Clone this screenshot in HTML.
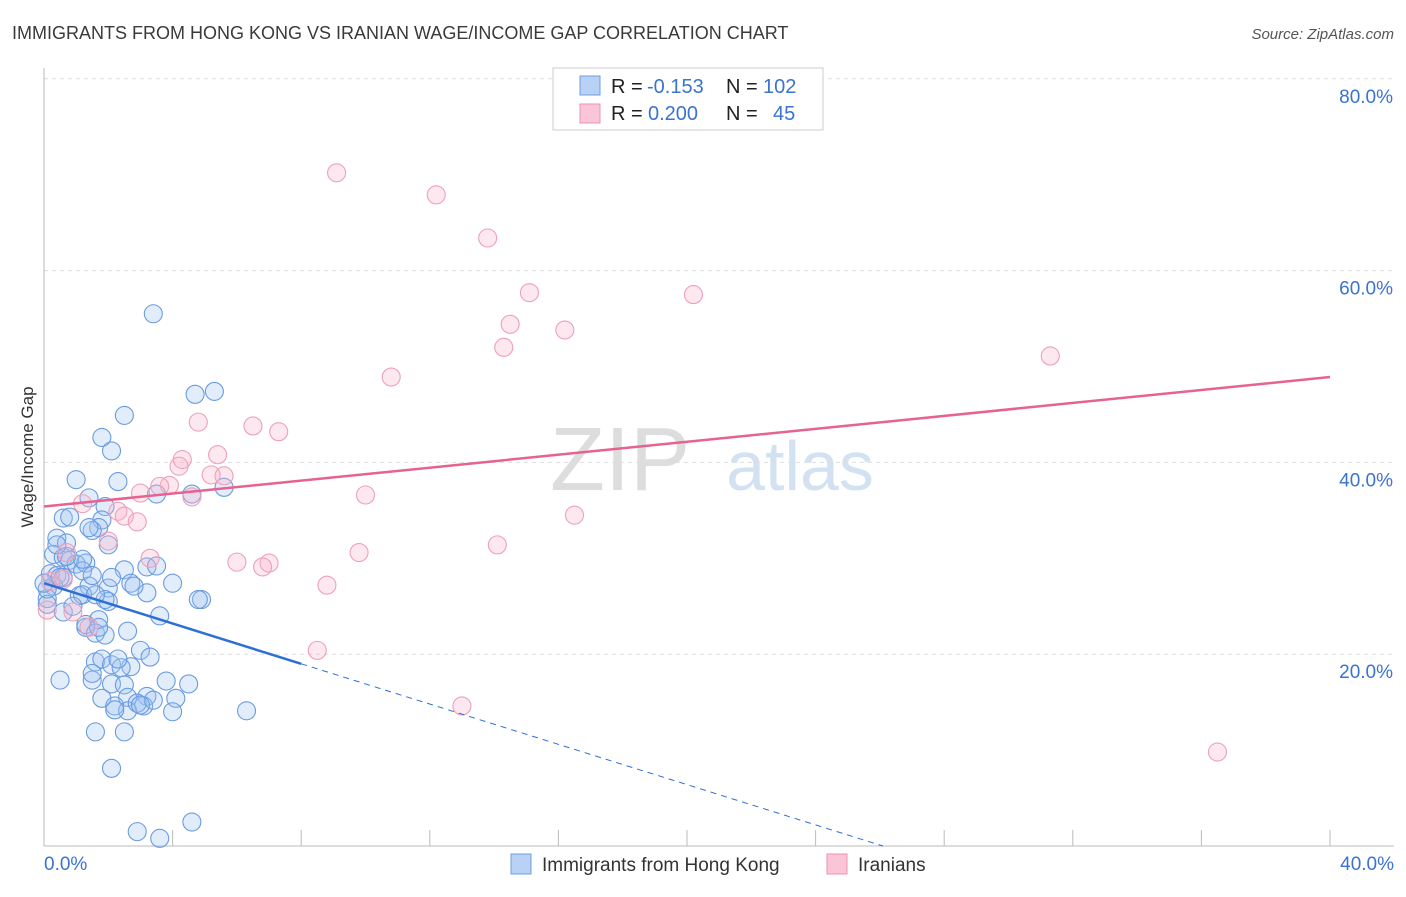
<!DOCTYPE html>
<html><head><meta charset="utf-8"><style>
body{margin:0;background:#fff;font-family:"Liberation Sans",sans-serif;}
svg text{font-family:"Liberation Sans",sans-serif;}
</style></head><body>
<svg id="c" width="1406" height="892">
<text x="12" y="39" font-size="18" fill="#3a3a3a">IMMIGRANTS FROM HONG KONG VS IRANIAN WAGE/INCOME GAP CORRELATION CHART</text>
<text x="1394" y="39" font-size="15" fill="#555" font-style="italic" text-anchor="end">Source: ZipAtlas.com</text>
<text x="33" y="457" font-size="17" fill="#333" transform="rotate(-90 33 457)" text-anchor="middle">Wage/Income Gap</text>
<text x="620" y="490" font-size="90" fill="#ddd" font-family="Liberation Serif" text-anchor="middle">ZIP</text>
<text x="800" y="490" font-size="70" fill="#d3e2f3" text-anchor="middle">atlas</text>
<g id="grid"></g><g id="pts"></g><g id="lines"></g>
<g>
<rect x="553" y="68" width="270" height="62" fill="#fff" stroke="#ccc"/>
<rect x="580" y="76" width="20" height="19" fill="#b7d2f5" stroke="#6d9de0"/>
<rect x="580" y="104" width="20" height="19" fill="#fac5d6" stroke="#ec93ae"/>
<text x="611" y="93" font-size="20" fill="#222">R =</text>
<text x="647" y="93" font-size="20" fill="#3a73d0">-0.153</text>
<text x="726" y="93" font-size="20" fill="#222">N =</text>
<text x="763" y="93" font-size="20" fill="#3a73d0">102</text>
<text x="611" y="120" font-size="20" fill="#222">R =</text>
<text x="648" y="120" font-size="20" fill="#3a73d0">0.200</text>
<text x="726" y="120" font-size="20" fill="#222">N =</text>
<text x="773" y="120" font-size="20" fill="#3a73d0">45</text>
</g>
<g>
<rect x="511" y="854" width="20" height="20" fill="#b7d2f5" stroke="#6d9de0"/>
<text x="542" y="871" font-size="19" fill="#333">Immigrants from Hong Kong</text>
<rect x="827" y="854" width="20" height="20" fill="#fac5d6" stroke="#ec93ae"/>
<text x="858" y="871" font-size="19" fill="#333">Iranians</text>
</g>
</svg>
<script>
const yTicks=[20,40,60,80];
const xTicks=[0,4,8,12,16,20,24,28,32,36,40];
const blueX=[3.4,5.3,4.7,2.5,1.8,2.1,1.0,2.3,5.6,3.5,4.6,1.4,1.9,0.6,0.8,1.8,1.7,1.5,1.4,2.0,0.4,0.7,0.3,0.6,0.8,1.0,1.3,0.2,0.4,0.6,1.2,2.5,3.2,3.5,2.7,2.0,1.4,0.3,0.1,0.1,1.1,2.0,3.2,4.0,4.9,4.8,3.6,1.7,1.3,1.3,1.6,1.9,2.6,1.6,1.8,2.1,3.0,3.3,2.7,0.5,1.5,1.5,2.4,2.1,2.5,3.8,4.5,3.2,2.6,1.8,2.2,2.6,3.1,4.1,4.0,2.2,6.3,1.6,2.5,2.1,2.9,3.6,4.6,0.7,0.4,0.5,0.1,2.1,2.8,1.2,1.9,1.5,0.6,0.9,2.9,3.4,1.7,3.0,2.3,1.2,1.6,0.0];
const blueY=[55.5,47.4,47.1,44.9,42.6,41.2,38.2,38.0,37.4,36.7,36.7,36.3,35.4,34.2,34.3,34.0,33.2,32.9,33.2,31.4,32.1,31.6,30.4,30.1,29.8,29.4,29.5,28.4,28.2,28.0,28.7,28.8,29.1,29.2,27.4,26.9,27.1,27.1,25.8,25.2,26.1,25.5,26.4,27.4,25.7,25.7,24.0,23.6,22.8,23.1,22.2,22.0,22.4,19.2,19.5,18.9,20.4,19.7,18.7,17.3,17.3,18.0,18.6,16.9,16.8,17.2,16.9,15.6,15.5,15.4,14.6,14.1,14.6,15.4,14.0,14.2,14.1,11.9,11.9,8.1,1.5,0.8,2.5,30.2,31.4,28.0,26.8,28.0,27.1,26.2,25.7,28.2,24.4,25.0,14.9,15.2,22.8,14.7,19.5,29.9,26.2,27.4];
const pinkX=[9.1,12.2,13.8,15.1,20.2,14.5,16.2,14.3,31.3,10.8,4.8,6.5,7.3,4.3,5.4,4.2,5.2,5.6,3.9,3.6,3.0,4.6,10.0,1.2,2.3,2.5,2.9,16.5,2.0,3.3,9.8,14.1,6.0,7.0,6.8,8.8,8.5,13.0,36.5,0.7,0.6,0.1,1.4,0.9,0.2];
const pinkY=[70.2,67.9,63.4,57.7,57.5,54.4,53.8,52.0,51.1,48.9,44.2,43.8,43.2,40.3,40.8,39.6,38.7,38.6,37.6,37.5,36.8,36.4,36.6,35.7,34.9,34.4,33.8,34.5,31.8,30.0,30.6,31.4,29.6,29.5,29.1,27.2,20.4,14.6,9.8,30.6,27.8,24.6,22.8,24.4,27.6];
const pinkTrend=[35.4,48.9], blueTrend=[27.4,19.0,0];
const X=v=>44+v*32.15, Y=v=>846-v*9.59;
const ns="http://www.w3.org/2000/svg";
function mk(tag,attrs,parent){const e=document.createElementNS(ns,tag);for(const k in attrs)e.setAttribute(k,attrs[k]);document.getElementById(parent).appendChild(e);return e;}
yTicks.forEach(t=>{
 const l=mk('line',{x1:44,x2:1394,y1:Y(t),y2:Y(t),stroke:'#ddd','stroke-dasharray':'4,4'},'grid');
 
 
 const tx=mk('text',{x:1393,y:Y(t)+24,'font-size':19,fill:'#3a73d0','text-anchor':'end'},'grid');
 tx.textContent=t.toFixed(1)+'%';
 
 
});
mk('line',{x1:44,x2:44,y1:68,y2:846,stroke:'#bbb'},'grid');
mk('line',{x1:44,x2:1394,y1:846,y2:846,stroke:'#bbb'},'grid');
xTicks.forEach(t=>{
 const l=mk('line',{x1:X(t),x2:X(t),y1:830,y2:846,stroke:'#bbb'},'grid');
 
 
});
[[0,'start'],[40,'end']].forEach(([t,a])=>{
 const tx=mk('text',{x:t==0?X(t):X(t)+64,y:870,'font-size':19,fill:'#3a73d0','text-anchor':a},'grid');
 tx.textContent=t.toFixed(1)+'%';
 
 
});
blueX.forEach((v,i)=>{
 const c=mk('circle',{cx:X(v),cy:Y(blueY[i]),r:9,fill:'rgba(160,195,242,0.3)',stroke:'#6a9be0','stroke-width':1.1},'pts');
 
 
});
pinkX.forEach((v,i)=>{
 const c=mk('circle',{cx:X(v),cy:Y(pinkY[i]),r:9,fill:'rgba(248,180,202,0.3)',stroke:'#eea0b8','stroke-width':1.1},'pts');
 
 
});
let l=mk('line',{x1:X(0),y1:Y(pinkTrend[0]),x2:X(40),y2:Y(pinkTrend[1]),stroke:'#e5638e','stroke-width':2.5},'lines');


l=mk('line',{x1:X(0),y1:Y(blueTrend[0]),x2:X(8),y2:Y(blueTrend[1]),stroke:'#2e6fd6','stroke-width':2.5},'lines');


const slope=(blueTrend[1]-blueTrend[0])/8, xe=-blueTrend[0]/slope;
l=mk('line',{x1:X(8),y1:Y(blueTrend[1]),x2:X(xe),y2:Y(0),stroke:'#2e6fd6','stroke-width':1,'stroke-dasharray':'6,5'},'lines');


</script>
</body></html>
